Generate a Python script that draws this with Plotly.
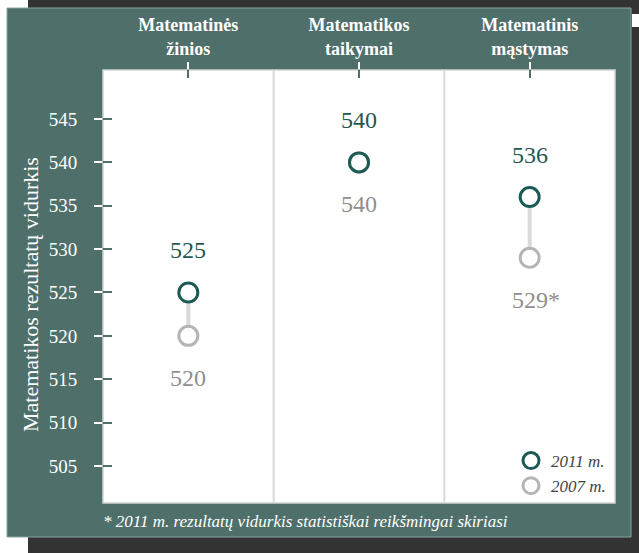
import plotly.graph_objects as go

# ---------------- data ----------------
categories = ["Matematinės<br>žinios", "Matematikos<br>taikymai", "Matematinis<br>mąstymas"]
scores_2011 = [525, 540, 536]
scores_2007 = [520, 540, 529]
labels_2011 = ["525", "540", "536"]
labels_2007 = ["520", "540", "529*"]
series_names = ["2011 m.", "2007 m."]
y_ticks = [505, 510, 515, 520, 525, 530, 535, 540, 545]
y_title = "Matematikos rezultatų vidurkis"
footnote = "* 2011 m. rezultatų vidurkis statistiškai reikšmingai skiriasi"

# ---------------- style ----------------
W, H = 639, 553
ML, MR, MT, MB = 103, 24, 70, 50
PW, PH = W - ML - MR, H - MT - MB
TEAL_BG = "#4f6f6b"
DARK = "#333333"
C2011 = "#1c5a54"
C2007 = "#b5b5b5"
TXT2011 = "#1f5852"
TXT2007 = "#8f8f8f"
FONT = "Liberation Serif, DejaVu Serif, serif"
Y_RANGE = [500.73, 550.65]


def px_x(X):
    return (X - ML) / PW


def px_y(Y):
    return (H - MB - Y) / PH


fig = go.Figure()

# connectors between 2007 and 2011
xc, yc = [], []
for c, a, b in zip(categories, scores_2007, scores_2011):
    xc += [c, c, None]
    yc += [a, b, None]
fig.add_trace(go.Scatter(x=xc, y=yc, mode="lines", line=dict(color="#d9d9d9", width=4),
                         showlegend=False, hoverinfo="skip"))

fig.add_trace(go.Scatter(x=categories, y=scores_2007, mode="markers", name=series_names[1],
                         legendrank=2,
                         marker=dict(size=19, color="white", line=dict(color=C2007, width=3))))
fig.add_trace(go.Scatter(x=categories, y=scores_2011, mode="markers", name=series_names[0],
                         legendrank=1,
                         marker=dict(size=19, color="white", line=dict(color=C2011, width=3))))

# invisible traces so the overlay axes (two-tone tick parts) are drawn
fig.add_trace(go.Scatter(x=categories, y=scores_2011, xaxis="x2", yaxis="y2", mode="markers",
                         marker=dict(opacity=0), showlegend=False, hoverinfo="skip"))
fig.add_trace(go.Scatter(x=categories, y=scores_2011, xaxis="x", yaxis="y3", mode="markers",
                         marker=dict(opacity=0), showlegend=False, hoverinfo="skip"))

annotations = []
for c, v, t in zip(categories, scores_2011, labels_2011):
    annotations.append(dict(x=c, y=v, xref="x", yref="y", text=t, showarrow=False, yshift=42,
                            xshift=(6 if t.endswith("*") else 0),
                            font=dict(family=FONT, size=24, color=TXT2011)))
for c, v, t in zip(categories, scores_2007, labels_2007):
    annotations.append(dict(x=c, y=v, xref="x", yref="y", text=t, showarrow=False, yshift=-42,
                            xshift=(6 if t.endswith("*") else 0),
                            font=dict(family=FONT, size=24, color=TXT2007)))

annotations.append(dict(x=px_x(30), y=px_y(295), xref="paper", yref="paper", text=y_title,
                        textangle=-90, showarrow=False, xanchor="center", yanchor="middle",
                        font=dict(family=FONT, size=22, color="white")))
annotations.append(dict(x=px_x(101), y=px_y(521), xref="paper", yref="paper",
                        text="<i>" + footnote + "</i>", showarrow=False,
                        xanchor="left", yanchor="middle",
                        font=dict(family=FONT, size=17, color="white")))

shapes = [
    dict(type="rect", xref="paper", yref="paper", x0=px_x(28), x1=px_x(660), y0=px_y(-10), y1=px_y(563),
         fillcolor=DARK, line=dict(width=0), layer="below"),
    dict(type="rect", xref="paper", yref="paper", x0=px_x(632), x1=px_x(660), y0=px_y(14), y1=px_y(27),
         fillcolor="white", line=dict(width=0), layer="below"),
    dict(type="rect", xref="paper", yref="paper", x0=px_x(7), x1=px_x(631), y0=px_y(8), y1=px_y(537),
         fillcolor=TEAL_BG, line=dict(color="#8aa4a1", width=1), layer="below"),
    dict(type="rect", xref="paper", yref="paper", x0=0, x1=1, y0=0, y1=1,
         fillcolor="white", line=dict(color="#d4d4d4", width=1.5), layer="below"),
]
for i in range(len(categories) - 1):
    shapes.append(dict(type="line", xref="x", yref="paper", x0=i + 0.5, x1=i + 0.5, y0=0, y1=1,
                       line=dict(color="#d9d9d9", width=2), layer="below"))

xr = [-0.5, len(categories) - 0.5]
fig.update_layout(
    width=W, height=H,
    margin=dict(l=ML, r=MR, t=MT, b=MB),
    paper_bgcolor="white", plot_bgcolor="rgba(0,0,0,0)",
    showlegend=True,
    legend=dict(x=px_x(611), y=px_y(504), xanchor="right", yanchor="bottom",
                bgcolor="rgba(0,0,0,0)", font=dict(family=FONT, size=17, color="#444444", style="italic"),
                itemwidth=30, tracegroupgap=0),
    xaxis=dict(type="category", categoryarray=categories, categoryorder="array", range=xr,
               side="top", ticks="outside", ticklen=7, tickwidth=2, tickcolor="white",
               tickfont=dict(family=FONT, size=18, color="white", weight="bold"),
               showgrid=False, zeroline=False, showline=False, fixedrange=True),
    xaxis2=dict(type="category", categoryarray=categories, categoryorder="array", range=xr,
                overlaying="x", side="top", anchor="y", ticks="inside", ticklen=8, tickwidth=2,
                tickcolor=TEAL_BG, showticklabels=False, showgrid=False, zeroline=False,
                showline=False, fixedrange=True),
    # label axis: transparent long tick pushes the labels out to match the reference gap
    yaxis=dict(range=Y_RANGE, tickvals=y_ticks, ticks="outside", ticklen=21, tickwidth=2,
               tickcolor="rgba(0,0,0,0)", tickfont=dict(family=FONT, size=19, color="white"),
               showgrid=False, zeroline=False, showline=False, fixedrange=True),
    # dark inner part of the tick marks
    yaxis2=dict(range=Y_RANGE, tickvals=y_ticks, overlaying="y", side="left", anchor="x",
                ticks="inside", ticklen=9, tickwidth=2, tickcolor=TEAL_BG, showticklabels=False,
                showgrid=False, zeroline=False, showline=False, fixedrange=True),
    # white outer part of the tick marks
    yaxis3=dict(range=Y_RANGE, tickvals=y_ticks, overlaying="y", side="left", anchor="x",
                ticks="outside", ticklen=8, tickwidth=2, tickcolor="white", showticklabels=False,
                showgrid=False, zeroline=False, showline=False, fixedrange=True),
    annotations=annotations,
    shapes=shapes,
)

fig.write_html("out.html", post_script="document.body.style.margin='0px';",
               config={"displayModeBar": False})
